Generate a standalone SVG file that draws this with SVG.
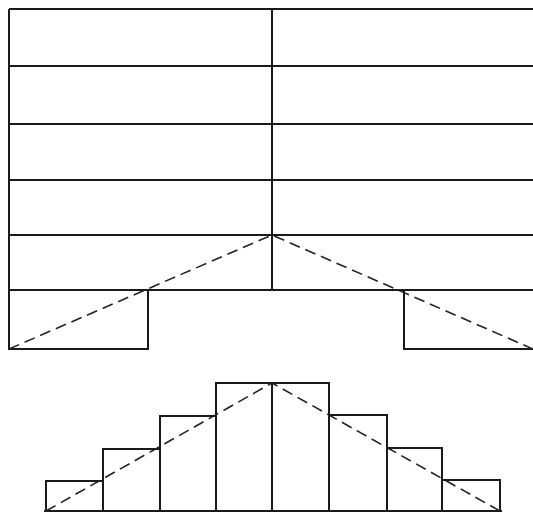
<svg xmlns="http://www.w3.org/2000/svg" width="533" height="512" viewBox="0 0 533 512">
<style>
.s{fill:none;stroke:#1a1a1a;stroke-width:2}
.d{fill:none;stroke:#222;stroke-width:1.6;stroke-dasharray:11 6}
</style>
<rect width="533" height="512" fill="#fff"/>
<g id="wall">
<path class="s" d="M9 9H533M9 66H533M9 124H533M9 180H533M9 235H533M9 290H533M9 9V349M272 9V290"/>
</g>
<g id="left-step">
<path class="s" d="M9 290V349H148V290"/>
</g>
<g id="right-step">
<path class="s" d="M404 290V349H533"/>
</g>
<g id="bars">
<path class="s" d="M46 511V481H103V511M103 481V449H160V511M160 449V416H216V511M216 416V383H272V511M272 383H329V511M329 415H387V511M387 448H442V511M442 480H500V511M44 511H502"/>
</g>
<g id="connectors">
<path class="d" d="M9 349L272 235L533 349"/>
<path class="d" d="M46 511L272 383L500 511"/>
</g>
</svg>
